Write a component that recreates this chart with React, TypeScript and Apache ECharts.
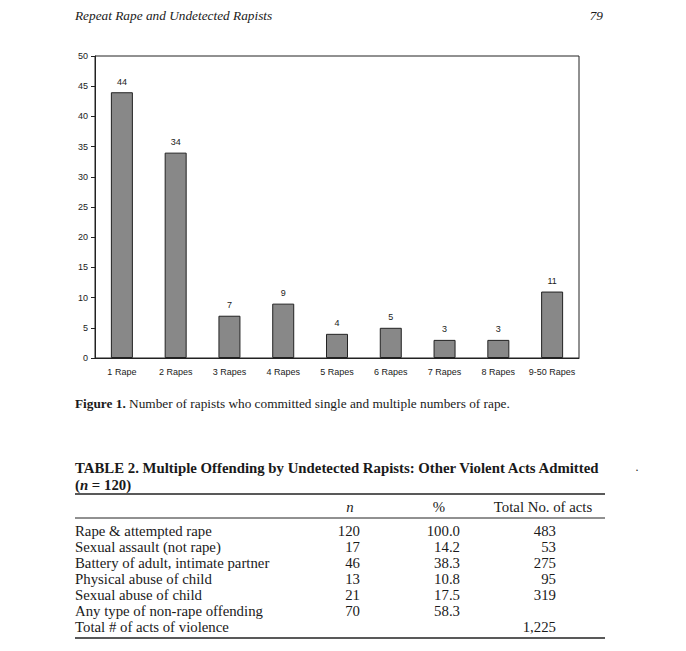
import React, { useEffect, useRef } from "react";
import * as echarts from "echarts";

const CATEGORIES = ["1 Rape", "2 Rapes", "3 Rapes", "4 Rapes", "5 Rapes", "6 Rapes", "7 Rapes", "8 Rapes", "9-50 Rapes"];
const COUNTS = [44, 34, 7, 9, 4, 5, 3, 3, 11];
const Y_MAX = 50;
const Y_INTERVAL = 5;

const PAGE_HEADER = "Repeat Rape and Undetected Rapists";
const PAGE_NUMBER = "79";
const CAPTION_BOLD = "Figure 1.";
const CAPTION_TEXT = " Number of rapists who committed single and multiple numbers of rape.";
const TABLE_TITLE = "TABLE 2. Multiple Offending by Undetected Rapists: Other Violent Acts Admitted";
const TABLE_HEADERS = ["n", "%", "Total No. of acts"];
const ROW_LABELS = [
  "Rape & attempted rape",
  "Sexual assault (not rape)",
  "Battery of adult, intimate partner",
  "Physical abuse of child",
  "Sexual abuse of child",
  "Any type of non-rape offending",
  "Total # of acts of violence",
];
const N_VALUES = ["120", "17", "46", "13", "21", "70", ""];
const PCT_VALUES = ["100.0", "14.2", "38.3", "10.8", "17.5", "58.3", ""];
const TOTAL_VALUES = ["483", "53", "275", "95", "319", "", "1,225"];

const SERIF = "'Liberation Serif', 'Times New Roman', serif";
const SANS = "'Liberation Sans', Arial, sans-serif";
const INK = "#1a1a1a";
const TABLE_FS = 14.8;

function txt(text: string, x: number, y: number, opts: any = {}) {
  const align = opts.align || "left";
  return {
    type: "text",
    x,
    y,
    silent: true,
    style: {
      text,
      fill: INK,
      fontFamily: SERIF,
      fontSize: TABLE_FS,
      align,
      textAlign: align,
      verticalAlign: "middle",
      textVerticalAlign: "middle",
      ...opts.style,
    },
  };
}

function hline(x1: number, x2: number, y: number, w: number) {
  return {
    type: "line",
    silent: true,
    shape: { x1, y1: y, x2, y2: y },
    style: { stroke: "#222", lineWidth: w },
  };
}

export default function App() {
  const ref = useRef<HTMLDivElement>(null);
  useEffect(() => {
    if (!ref.current) return;
    const chart = echarts.init(ref.current, undefined, { renderer: "svg" });

    const left = 75;
    const lineRight = 605;
    const colN = 360;
    const colPct = 460;
    const colTot = 556;
    const rowY0 = 531;
    const rowStep = 16;

    const graphics: any[] = [];
    graphics.push(txt(PAGE_HEADER, left, 15, { style: { fontStyle: "italic", fontSize: 13.3 } }));
    graphics.push(txt(PAGE_NUMBER, 603, 15, { align: "right", style: { fontStyle: "italic", fontSize: 13.3 } }));
    graphics.push({
      type: "text",
      x: left,
      y: 403,
      silent: true,
      style: {
        text: "{b|" + CAPTION_BOLD + "}{r|" + CAPTION_TEXT + "}",
        verticalAlign: "middle",
        textVerticalAlign: "middle",
        rich: {
          b: { fontFamily: SERIF, fontWeight: "bold", fontSize: 13.3, fill: INK, color: INK },
          r: { fontFamily: SERIF, fontSize: 13.3, fill: INK, color: INK },
        },
      },
    });
    graphics.push(txt(TABLE_TITLE, left, 468, { style: { fontWeight: "bold", fontSize: TABLE_FS } }));
    graphics.push({
      type: "text",
      x: left,
      y: 485,
      silent: true,
      style: {
        text: "{b|(}{i|n}{b| = 120)}",
        verticalAlign: "middle",
        textVerticalAlign: "middle",
        rich: {
          b: { fontFamily: SERIF, fontWeight: "bold", fontSize: TABLE_FS, fill: INK, color: INK },
          i: { fontFamily: SERIF, fontWeight: "bold", fontStyle: "italic", fontSize: TABLE_FS, fill: INK, color: INK },
        },
      },
    });
    graphics.push(txt("·", 637, 470, { align: "center", style: { fontSize: 12 } }));
    graphics.push(hline(left, lineRight, 494, 1.6));
    graphics.push(txt(TABLE_HEADERS[0], 350, 507, { align: "center", style: { fontStyle: "italic" } }));
    graphics.push(txt(TABLE_HEADERS[1], 439, 507, { align: "center" }));
    graphics.push(txt(TABLE_HEADERS[2], 543, 507, { align: "center" }));
    graphics.push(hline(left, lineRight, 518, 1));
    ROW_LABELS.forEach((label, i) => {
      const y = rowY0 + i * rowStep;
      graphics.push(txt(label, left, y));
      if (N_VALUES[i]) graphics.push(txt(N_VALUES[i], colN, y, { align: "right" }));
      if (PCT_VALUES[i]) graphics.push(txt(PCT_VALUES[i], colPct, y, { align: "right" }));
      if (TOTAL_VALUES[i]) graphics.push(txt(TOTAL_VALUES[i], colTot, y, { align: "right" }));
    });
    graphics.push(hline(left, lineRight, 638, 1.6));

    chart.setOption({
      animation: false,
      backgroundColor: "#ffffff",
      grid: {
        left: 95,
        top: 56,
        width: 484,
        height: 302,
        show: true,
        borderColor: "#222",
        borderWidth: 1,
        backgroundColor: "transparent",
      },
      xAxis: {
        type: "category",
        data: CATEGORIES,
        axisLine: { lineStyle: { color: "#222", width: 1 } },
        axisTick: { show: false },
        axisLabel: { color: INK, fontFamily: SANS, fontSize: 9, margin: 9, interval: 0 },
        splitLine: { show: false },
      },
      yAxis: {
        type: "value",
        min: 0,
        max: Y_MAX,
        interval: Y_INTERVAL,
        axisLine: { show: true, lineStyle: { color: "#222", width: 1 } },
        axisTick: { show: true, length: 4, lineStyle: { color: "#222" } },
        axisLabel: { color: INK, fontFamily: SANS, fontSize: 9, margin: 7 },
        splitLine: { show: false },
      },
      series: [
        {
          type: "bar",
          data: COUNTS,
          barWidth: 22,
          itemStyle: { color: "#888888", borderColor: "#222", borderWidth: 1 },
          label: {
            show: true,
            position: "top",
            distance: 6,
            color: INK,
            fontFamily: SANS,
            fontSize: 9,
          },
        },
      ],
      graphic: graphics,
    });
    return () => chart.dispose();
  }, []);

  return (
    <div
      ref={ref}
      style={{ position: "fixed", left: 0, top: 0, width: 686, height: 651, background: "#fff" }}
    />
  );
}
